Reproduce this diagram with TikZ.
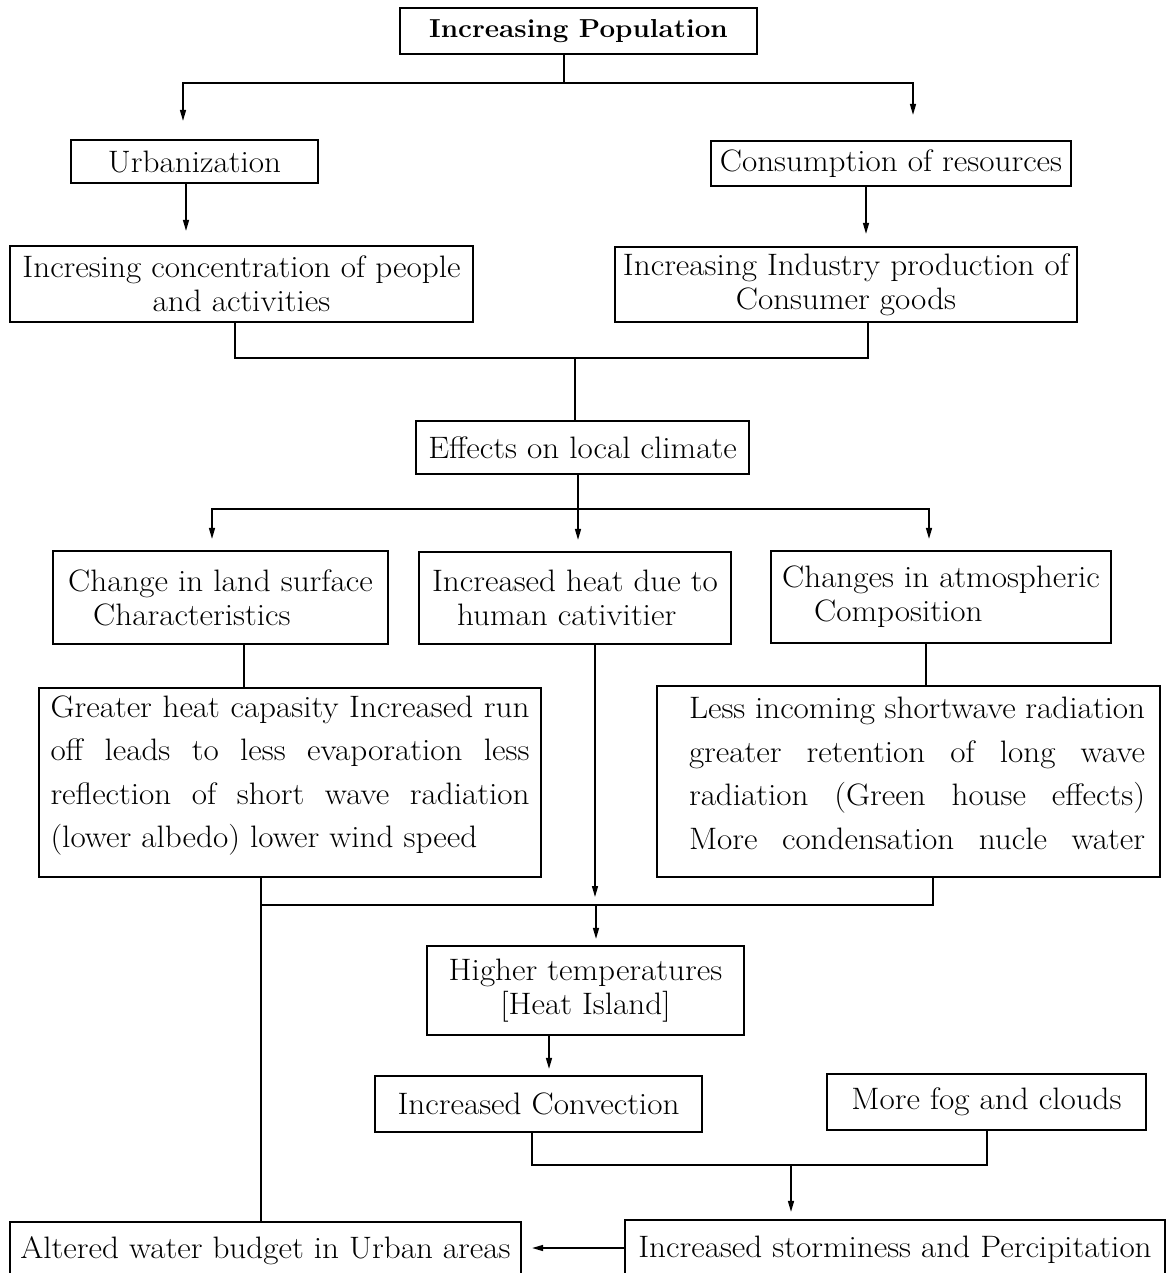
\documentclass[tikz,border=0pt]{standalone}
\usepackage{fontspec}
\setmainfont{Latin Modern Roman}[FakeStretch=1.07]
\usetikzlibrary{arrows.meta,calc}
\tikzset{
  box/.style={draw, line width=2.2pt, inner sep=0pt, align=center,
    font=\fontsize{31}{34}\selectfont},
  bigbox/.style={box, align=left, font=\fontsize{31}{43.5}\selectfont},
  conn/.style={line width=1.4pt},
  arr/.style={conn, -{Triangle[length=11pt,width=6pt]}},
}
\begin{document}
\begin{tikzpicture}[x=1pt,y=-1pt]
\useasboundingbox (0,0) rectangle (1171,1273);
\clip (0,0) rectangle (1171,1273);
\fill[white] (0,0) rectangle (1171,1273);

% boxes
\node[box, minimum width=357pt, minimum height=46pt,
  font=\fontsize{26}{34}\selectfont\bfseries] (pop) at (578.5,31) {Increasing Population};
\node[box, minimum width=247pt, minimum height=43pt] (urb) at (194.5,161.5) {Urbanization};
\node[box, minimum width=360pt, minimum height=45pt] (cons) at (891,163.5) {Consumption of resources};
\node[box, minimum width=463pt, minimum height=76pt] (conc) at (241.5,284)
  {Incresing concentration of people\\and activities};
\node[box, minimum width=462pt, minimum height=75pt] (ind) at (846,284.5)
  {Increasing Industry production of\\Consumer goods};
\node[box, minimum width=333pt, minimum height=53pt] (eff) at (582.5,447.5) {Effects on local climate};
\node[box, align=left, minimum width=335pt, minimum height=93pt] (land) at (220.5,597.5)
  {Change in land surface\\\hspace*{25pt}Characteristics};
\node[box, align=left, minimum width=312pt, minimum height=92pt] (heat) at (575,598)
  {Increased heat due to\\\hspace*{25pt}human cativitier};
\node[box, align=left, minimum width=340pt, minimum height=92pt] (atm) at (941,597)
  {Changes in atmospheric\\\hspace*{32pt}Composition};
\node[bigbox, minimum width=502pt, minimum height=189pt] (greater) at (290,782.5)
  {\makebox[479pt][s]{Greater heat capasity Increased run}\\
   \makebox[479pt][s]{off leads to less evaporation less}\\
   \makebox[479pt][s]{reflection of short wave radiation}\\
   (lower albedo) lower wind speed\rule[-22pt]{0pt}{22pt}};
\node[bigbox, minimum width=503pt, minimum height=191pt] (less) at (908.5,781.5)
  {\hspace*{17pt}\makebox[456pt][s]{Less incoming shortwave radiation}\\
   \hspace*{17pt}\makebox[456pt][s]{greater retention of long wave}\\
   \hspace*{17pt}\makebox[456pt][s]{radiation (Green house effects)}\\
   \hspace*{17pt}\makebox[456pt][s]{More condensation nucle water}\rule[-17pt]{0pt}{17pt}};
\node[box, minimum width=317pt, minimum height=89pt] (higher) at (585.5,990.5)
  {Higher temperatures\\{[}Heat Island{]}};
\node[box, minimum width=327pt, minimum height=56pt] (conv) at (538.5,1104) {Increased Convection};
\node[box, minimum width=319pt, minimum height=56pt] (fog) at (986.5,1102) {More fog and clouds};
\node[box, minimum width=511pt, minimum height=58pt] (alt) at (265.5,1251)
  {Altered water budget in Urban areas};
\node[box, minimum width=540pt, minimum height=60pt] (storm) at (895,1250)
  {Increased storminess and Percipitation};

% connectors
\coordinate (j0) at (564,83);
\draw[conn] (pop.south -| j0) -- (j0);
\draw[arr, shorten >=18pt] (j0) -| (urb.north -| 183,0);
\draw[arr, shorten >=25pt] (j0) -| (cons.north -| 913,0);
\draw[arr, shorten >=14pt] (urb.south -| 186,0) -- (conc.north -| 186,0);
\draw[arr, shorten >=12pt] (cons.south -| 866,0) -- (ind.north -| 866,0);

\coordinate (j1) at (575,358);
\draw[conn] (conc.south -| 235,0) |- (j1) -| (ind.south -| 868,0);
\draw[conn] (j1) -- (eff.north -| j1);

\coordinate (j2) at (578,509);
\draw[conn] (eff.south -| j2) -- (j2);
\draw[arr, shorten >=11pt] (j2) -| (land.north -| 212,0);
\draw[arr, shorten >=11pt] (j2) -- (heat.north -| j2);
\draw[arr, shorten >=11pt] (j2) -| (atm.north -| 929,0);

\draw[conn] (land.south -| 244,0) -- (greater.north -| 244,0);
\draw[conn] (atm.south -| 926,0) -- (less.north -| 926,0);
\draw[arr] (heat.south -| 595,0) -- (595,897);

\coordinate (j3) at (596,905);
\draw[conn] (greater.south -| 261,0) -- (alt.north -| 261,0);
\draw[conn] (261,905) -- (933,905) -- (less.south -| 933,0);
\draw[arr, shorten >=6pt] (j3) -- (higher.north -| j3);
\draw[arr, shorten >=6pt] (higher.south -| 549,0) -- (conv.north -| 549,0);

\coordinate (j4) at (791,1165);
\draw[conn] (conv.south -| 532,0) |- (j4) -| (fog.south -| 987,0);
\draw[arr, shorten >=7pt] (j4) -- (storm.north -| j4);
\draw[arr, shorten >=10pt] (storm.west |- 0,1248) -- (alt.east |- 0,1248);
\end{tikzpicture}
\end{document}
